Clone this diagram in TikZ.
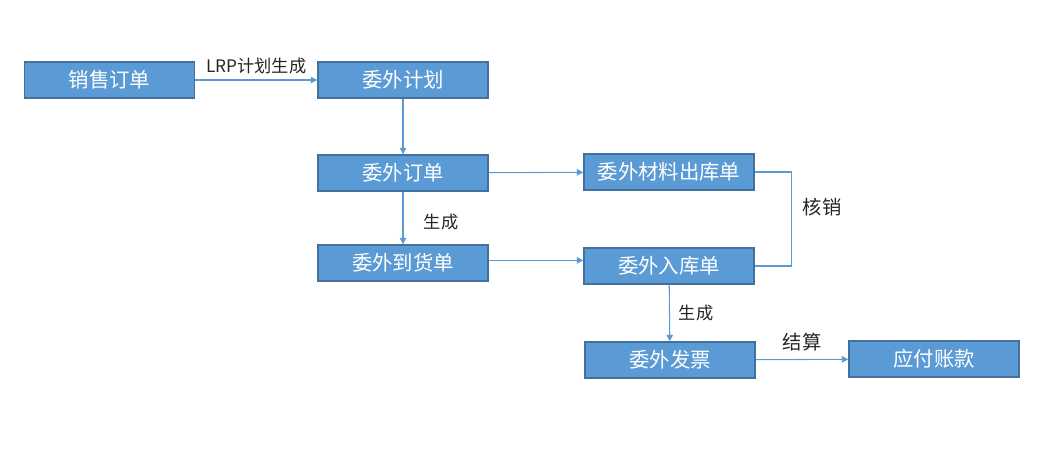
\documentclass[tikz,border=0pt]{standalone}
\usepackage{fontspec}
\setmainfont{Noto Sans CJK SC}
\usepackage{tikz}
\usetikzlibrary{arrows.meta,positioning}
\definecolor{boxfill}{HTML}{5B9BD5}
\definecolor{boxline}{HTML}{41719C}
\definecolor{linkblue}{HTML}{5B9BD5}

\begin{document}
\begin{tikzpicture}[
        x=0.02cm, y=-0.02cm,
        box/.style={draw=boxline, line width=0.8pt, fill=boxfill, text=white,
            font=\fontsize{11.6}{13}\selectfont, minimum width=3.4cm, minimum height=0.72cm, inner sep=0pt},
        arr/.style={-{Triangle[length=1.3mm,width=1.3mm]}, linkblue, line width=0.6pt},
        lbl/.style={font=\fontsize{11}{13}\selectfont, text=black!85},
        small/.style={font=\fontsize{9.8}{12}\selectfont, text=black!85}
    ]
        \useasboundingbox (0,0) rectangle (1048,462);
        \node[box] (xs) at (109.5,80) {销售订单};
        \node[box] (jh) at (403,80) {委外计划};
        \node[box] (dd) at (403,173) {委外订单};
        \node[box] (dh) at (403,263) {委外到货单};
        \node[box] (cl) at (669,172) {委外材料出库单};
        \node[box] (rk) at (669,266) {委外入库单};
        \node[box] (fp) at (670,360) {委外发票};
        \node[box] (yf) at (934,359) {应付账款};

        \draw[arr] (xs) -- node[small, above=0pt]{LRP计划生成} (jh);
        \draw[arr] (jh) -- (dd);
        \draw[arr] (dd) -- (dh);
        \node[small] (sc1) at (441,222) {生成};
        \draw[arr] (dd) -- (cl);
        \draw[arr] ([yshift=1.5pt]dh.east) -- ([yshift=1.5pt]rk.west |- dh.east);
        \draw[linkblue, line width=0.6pt] (cl.east) -- ++(37,0) |- (rk.east);
        \node[lbl] (hx) at (822,207) {核销};
        \draw[arr] (rk) -- (fp);
        \node[small] (sc2) at (696,313) {生成};
        \draw[arr] (fp) -- node[lbl, above=1pt]{结算} (yf);
    \end{tikzpicture}
\end{document}
